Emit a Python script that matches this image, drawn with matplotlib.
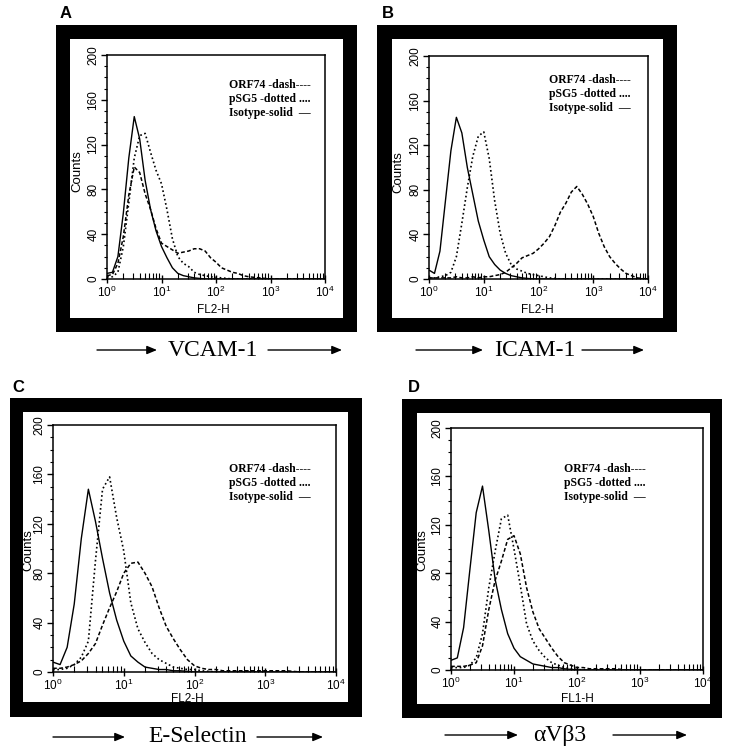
import numpy as np
import matplotlib
matplotlib.use("Agg")
import matplotlib.pyplot as plt
from matplotlib.patches import Rectangle, FancyArrowPatch
from matplotlib.ticker import LogLocator, MultipleLocator, LogFormatterMathtext, NullFormatter

W, H = 738, 753
fig = plt.figure(figsize=(W / 100, H / 100), dpi=100)
fig.patch.set_facecolor("white")

# ---- data: log10(fluorescence) grid, counts ----
log_x = [round(0.1 * i, 1) for i in range(41)]

panel_labels = ["A", "B", "C", "D"]
markers = ["VCAM-1", "ICAM-1", "E-Selectin", "αVβ3"]
channels = ["FL2-H", "FL2-H", "FL2-H", "FL1-H"]
legend_lines = ["ORF74 -dash----", "pSG5 -dotted ....", "Isotype-solid  —"]
y_ticks = [0, 40, 80, 120, 160, 200]

A_isotype = [5, 6, 20, 59, 108, 145, 125, 88, 62, 43, 29, 19, 10, 5, 3, 2, 1, 0.5, 0, 0, 0,
             0, 0, 0, 0, 0, 0, 0, 0, 0, 0, 0, 0, 0, 0, 0, 0, 0, 0, 0, 0]
A_orf74 = [3, 4, 14, 38, 75, 100, 95, 76, 62, 45, 32, 29, 26, 23, 24, 25, 27, 27, 25, 19, 15,
           10, 8, 6, 5, 3, 2, 1.5, 1, 0.5, 0, 0, 0, 0, 0, 0, 0, 0, 0, 0, 0]
A_psg5 = [2, 2, 6, 29, 68, 108, 128, 130, 113, 97, 85, 62, 36, 20, 14, 11, 6, 4, 3, 2, 1.5,
          1, 0.5, 0, 0, 0, 0, 0, 0, 0, 0, 0, 0, 0, 0, 0, 0, 0, 0, 0, 0]

B_isotype = [8, 5, 25, 70, 115, 145, 131, 100, 76, 52, 35, 20, 13, 8, 5, 3, 2, 1, 0.5, 0, 0,
             0, 0, 0, 0, 0, 0, 0, 0, 0, 0, 0, 0, 0, 0, 0, 0, 0, 0, 0, 0]
B_orf74 = [1, 1, 1, 1, 1, 2, 1, 1, 2, 1, 2, 2, 3, 4, 6, 10, 14, 19, 21, 23, 27,
           32, 38, 48, 60, 68, 78, 83, 76, 67, 56, 41, 29, 20, 14, 9, 5, 3, 1, 0.5, 0]
B_psg5 = [1, 1, 2, 3, 6, 20, 50, 82, 110, 128, 132, 108, 70, 41, 23, 13, 9, 7, 5, 4, 3,
          2, 1, 0.5, 0, 0, 0, 0, 0, 0, 0, 0, 0, 0, 0, 0, 0, 0, 0, 0, 0]

C_isotype = [8, 6, 20, 55, 108, 148, 122, 92, 64, 42, 25, 13, 8, 4, 3, 2, 2, 1, 1, 0.5, 0,
             0, 0, 0, 0, 0, 0, 0, 0, 0, 0, 0, 0, 0, 0, 0, 0, 0, 0, 0, 0]
C_orf74 = [3, 3, 4, 6, 9, 15, 23, 38, 52, 65, 80, 88, 89, 80, 69, 52, 37, 27, 18, 10, 5,
           3, 2, 2, 1, 1, 1, 1, 1, 1, 1, 1, 1, 1, 0.5, 0, 0, 0, 0, 0, 0]
C_psg5 = [2, 2, 3, 6, 12, 25, 90, 148, 158, 125, 98, 56, 35, 24, 15, 10, 7, 4, 3, 2, 2,
          1, 0.5, 0, 0, 0, 0, 0, 0, 0, 0, 0, 0, 0, 0, 0, 0, 0, 0, 0, 0]

D_isotype = [8, 10, 35, 83, 130, 152, 115, 75, 50, 30, 18, 11, 8, 5, 4, 3, 2, 2, 1, 0.5, 0,
             0, 0, 0, 0, 0, 0, 0, 0, 0, 0, 0, 0, 0, 0, 0, 0, 0, 0, 0, 0]
D_orf74 = [3, 3, 3, 4, 6, 20, 50, 74, 90, 108, 111, 96, 68, 48, 34, 26, 18, 11, 6, 4, 2,
           2, 1, 1, 1, 1, 1, 0.5, 0, 0, 0, 0, 0, 0, 0, 0, 0, 0, 0, 0, 0]
D_psg5 = [2, 2, 2, 4, 10, 30, 68, 98, 125, 128, 100, 70, 38, 24, 16, 10, 6, 4, 2, 1, 0.5,
          0, 0, 0, 0, 0, 0, 0, 0, 0, 0, 0, 0, 0, 0, 0, 0, 0, 0, 0, 0]

series = [
    (A_orf74, A_psg5, A_isotype),
    (B_orf74, B_psg5, B_isotype),
    (C_orf74, C_psg5, C_isotype),
    (D_orf74, D_psg5, D_isotype),
]

# ---- layout (pixels, top-left origin) ----
frames_outer = [(56, 25, 357, 332), (377, 25, 677, 332), (10, 398, 362, 717), (402, 399, 722, 718)]
frames_inner = [(70, 39, 343, 318), (392, 39, 663, 318), (23, 412, 348, 702), (417, 413, 710, 704)]
axes_box = [(107, 55, 325, 279), (429, 56, 648, 279), (53, 425, 336, 672), (451, 428, 703, 670)]
letter_pos = [(60, 13), (382, 13), (12, 387), (408, 388)]
legend_pos = [(229, 85), (549, 80), (229, 469), (564, 469)]
xlabel_pos = [(213, 310), (537, 310), (187, 699), (577, 699)]
ylabel_pos = [(77, 171), (398, 172), (28, 550), (422, 550)]
caption = [  # (arrow1 x0,x1, text cx, arrow2 x0,x1, y)
    (97, 157, 213, 268, 342, 350),
    (416, 483, 535, 582, 644, 350),
    (53, 125, 198, 257, 323, 737),
    (445, 518, 560, 613, 687, 735),
]


def fx(x):
    return x / W


def fy(y):
    return 1 - y / H


def rect(box, color, z):
    x0, y0, x1, y1 = box
    fig.add_artist(Rectangle((fx(x0), fy(y1)), (x1 - x0) / W, (y1 - y0) / H,
                             transform=fig.transFigure, facecolor=color,
                             edgecolor="none", zorder=z))


sans = ["Liberation Sans", "DejaVu Sans"]
serif = ["Liberation Serif", "DejaVu Serif"]

for i in range(4):
    rect(frames_outer[i], "black", 0)
    rect(frames_inner[i], "white", 0.5)
    x0, y0, x1, y1 = axes_box[i]
    ax = fig.add_axes([fx(x0), fy(y1), (x1 - x0) / W, (y1 - y0) / H])
    ax.set_zorder(2)
    orf, psg, iso = series[i]
    xv = [10 ** v for v in log_x]
    ax.plot(xv, orf, color="black", lw=1.1, ls=(0, (2.5, 1.5)))
    ax.plot(xv, psg, color="black", lw=1.2, ls=(0, (1, 1.6)))
    ax.plot(xv, iso, color="black", lw=1.0, ls="-")
    ax.set_xscale("log")
    ax.set_xlim(1, 1e4)
    ax.set_ylim(0, 200)
    ax.xaxis.set_major_locator(LogLocator(base=10, numticks=10))
    ax.xaxis.set_minor_locator(LogLocator(base=10, subs=np.arange(2, 10), numticks=10))
    ax.xaxis.set_major_formatter(LogFormatterMathtext())
    ax.xaxis.set_minor_formatter(NullFormatter())
    ax.set_yticks(y_ticks)
    ax.yaxis.set_minor_locator(MultipleLocator(10))
    ax.tick_params(axis="x", which="major", direction="inout", length=6, width=1,
                   labelsize=8.5, pad=1.5)
    ax.tick_params(axis="x", which="minor", direction="in", length=4, width=0.8)
    ax.tick_params(axis="y", which="major", direction="out", length=4, width=1,
                   labelsize=8.5, pad=1.5)
    ax.tick_params(axis="y", which="minor", direction="out", length=2.5, width=0.8)
    for lab in ax.get_yticklabels():
        lab.set_rotation(90)
        lab.set_va("center")
        lab.set_family(sans)
    for lab in ax.get_xticklabels():
        lab.set_family(sans)
    for s in ax.spines.values():
        s.set_linewidth(1.1)

    lx, ly = letter_pos[i]
    fig.text(fx(lx), fy(ly), panel_labels[i], fontsize=12, fontweight="bold",
             family=sans, ha="left", va="center", zorder=5)
    gx, gy = legend_pos[i]
    for k, t in enumerate(legend_lines):
        fig.text(fx(gx), fy(gy + 14 * k), t, fontsize=8.5, fontweight="bold",
                 family=serif, ha="left", va="center", zorder=5)
    xx, xy = xlabel_pos[i]
    fig.text(fx(xx), fy(xy), channels[i], fontsize=8.5, family=sans,
             ha="center", va="center", zorder=5)
    yx, yy = ylabel_pos[i]
    fig.text(fx(yx), fy(yy), "Counts", fontsize=9.5, family=sans, rotation=90,
             ha="center", va="center", zorder=5)

    a0, a1, tc, b0, b1, cy = caption[i]
    fig.text(fx(tc), fy(cy), markers[i], fontsize=17, family=serif,
             ha="center", va="center", zorder=5)
    for (p, q) in [(a0, a1), (b0, b1)]:
        fig.add_artist(FancyArrowPatch((fx(p), fy(cy)), (fx(q), fy(cy)),
                                       transform=fig.transFigure,
                                       arrowstyle="-|>,head_length=0.6,head_width=0.25",
                                       mutation_scale=10, lw=1.0, color="black",
                                       shrinkA=0, shrinkB=0))

fig.savefig("out.png", dpi=100, facecolor="white")
